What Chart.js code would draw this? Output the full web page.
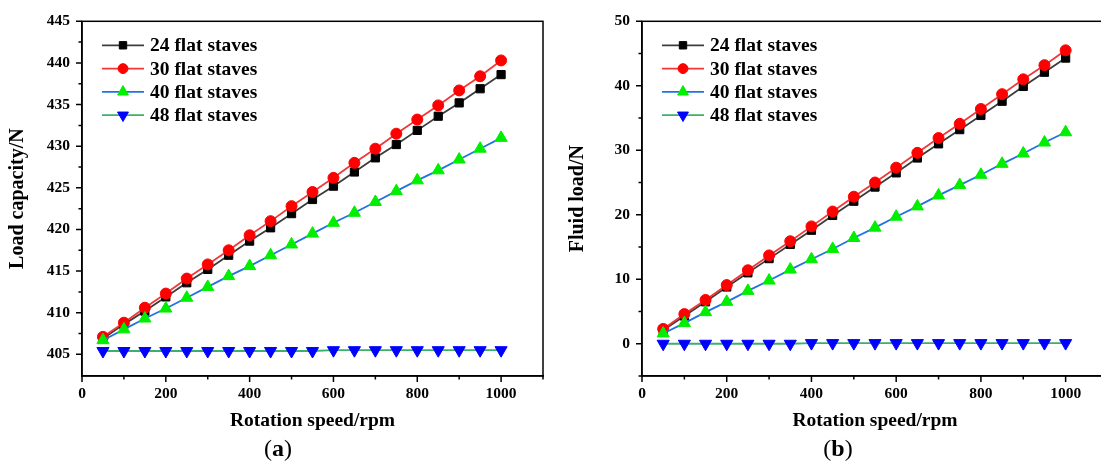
<!DOCTYPE html>
<html>
<head>
<meta charset="utf-8">
<script src="https://cdn.jsdelivr.net/npm/chart.js@4.4.1/dist/chart.umd.min.js"></script>
<style>
  html, body { margin: 0; padding: 0; background: #fff; overflow: hidden; }
  .panel { position: absolute; top: 0; width: 560px; height: 469px; }
  .cap { position: absolute; top: 435px; width: 560px; text-align: center;
         font: 24px "Liberation Serif", serif; color: #000; }
</style>
</head>
<body>
<div class="panel" style="left:0"><canvas id="chartA"></canvas></div>
<div class="panel" style="left:560px"><canvas id="chartB"></canvas></div>
<div class="cap" style="left:-2px">(<b>a</b>)</div>
<div class="cap" style="left:558px">(<b>b</b>)</div>
<script>
// rotation speed, rpm
const speeds = [50, 100, 150, 200, 250, 300, 350, 400, 450, 500,
                550, 600, 650, 700, 750, 800, 850, 900, 950, 1000];

// (a) load capacity, N
const load24 = [406.9, 408.6, 410.2, 411.9, 413.6, 415.2, 416.9, 418.6, 420.2, 421.9,
                423.6, 425.2, 426.9, 428.6, 430.2, 431.9, 433.6, 435.2, 436.9, 438.6];
const load30 = [407.1, 408.8, 410.6, 412.3, 414.1, 415.8, 417.5, 419.3, 421.0, 422.8,
                424.5, 426.2, 428.0, 429.7, 431.5, 433.2, 434.9, 436.7, 438.4, 440.3];
const load40 = [406.7, 408.0, 409.3, 410.5, 411.8, 413.1, 414.4, 415.6, 416.9, 418.2,
                419.5, 420.8, 422.0, 423.3, 424.6, 425.9, 427.1, 428.4, 429.7, 431.0];
const load48 = [405.4, 405.4, 405.4, 405.4, 405.4, 405.4, 405.4, 405.4, 405.4, 405.4,
                405.4, 405.5, 405.5, 405.5, 405.5, 405.5, 405.5, 405.5, 405.5, 405.5];

// (b) fluid load, N
const fluid24 = [2.1, 4.3, 6.5, 8.8, 11.0, 13.2, 15.4, 17.6, 19.9, 22.1,
                 24.3, 26.5, 28.8, 31.0, 33.2, 35.4, 37.6, 39.9, 42.1, 44.3];
const fluid30 = [2.3, 4.6, 6.8, 9.1, 11.4, 13.7, 15.9, 18.2, 20.5, 22.8,
                 25.0, 27.3, 29.6, 31.9, 34.1, 36.4, 38.7, 41.0, 43.2, 45.5];
const fluid40 = [1.6, 3.2, 4.9, 6.5, 8.2, 9.8, 11.5, 13.1, 14.7, 16.4,
                 18.0, 19.7, 21.3, 23.0, 24.6, 26.2, 27.9, 29.5, 31.2, 32.8];
const fluid48 = [0.0, 0.0, 0.0, 0.0, 0.0, 0.0, 0.0, 0.1, 0.1, 0.1,
                 0.1, 0.1, 0.1, 0.1, 0.1, 0.1, 0.1, 0.1, 0.1, 0.1];

const seriesNames = ['24 flat staves', '30 flat staves', '40 flat staves', '48 flat staves'];

// tick positions (labels only on the major ones)
const xTicks = [0, 100, 200, 300, 400, 500, 600, 700, 800, 900, 1000, 1100];
const yTicksA = [405, 407.5, 410, 412.5, 415, 417.5, 420, 422.5, 425, 427.5,
                 430, 432.5, 435, 437.5, 440, 442.5, 445];
const yTicksB = [-5, 0, 5, 10, 15, 20, 25, 30, 35, 40, 45, 50];

Chart.defaults.font.family = '"Liberation Serif", "Times New Roman", serif';
Chart.defaults.color = '#000';

const styles = [
  { line: '#3c3c3c', mark: '#000000', shape: 'rect', radius: 5.8, rot: 0 },
  { line: '#f03838', mark: '#ff0000', shape: 'circle', radius: 5.5, rot: 0 },
  { line: '#2272e0', mark: '#00ee00', shape: 'triangle', radius: 7, rot: 0 },
  { line: '#3cb06a', mark: '#0000ff', shape: 'triangle', radius: 7, rot: 180 }
];

function makeDatasets(arrays) {
  return arrays.map((arr, i) => ({
    label: seriesNames[i],
    data: speeds.map((s, j) => ({ x: s, y: arr[j] })),
    borderColor: styles[i].line,
    backgroundColor: styles[i].mark,
    borderWidth: 1.8,
    pointStyle: styles[i].shape,
    pointRotation: styles[i].rot,
    pointRadius: styles[i].radius,
    pointBackgroundColor: styles[i].mark,
    pointBorderColor: styles[i].mark,
    pointBorderWidth: 1,
    order: 3 - i
  }));
}

// frame, outward tick marks and the legend inside the plot
function decorations(xMajor, yMajor) {
  return {
    id: 'decorations',
    afterDraw(chart) {
      const ctx = chart.ctx;
      const area = chart.chartArea;
      ctx.save();
      ctx.strokeStyle = '#000';
      ctx.lineWidth = 1.5;
      ctx.strokeRect(area.left, area.top, area.right - area.left, area.bottom - area.top);

      const xs = chart.scales.x, ys = chart.scales.y;
      ctx.beginPath();
      xs.ticks.forEach(t => {
        const px = xs.getPixelForValue(t.value);
        const len = t.value % xMajor === 0 ? 6 : 3.5;
        ctx.moveTo(px, area.bottom);
        ctx.lineTo(px, area.bottom + len);
      });
      ys.ticks.forEach(t => {
        const py = ys.getPixelForValue(t.value);
        const len = t.value % yMajor === 0 ? 6 : 3.5;
        ctx.moveTo(area.left, py);
        ctx.lineTo(area.left - len, py);
      });
      ctx.stroke();

      chart.data.datasets.forEach((ds, i) => {
        const y = area.top + 24 + i * 23.3;
        const x0 = area.left + 20, x1 = area.left + 62;
        ctx.strokeStyle = ds.borderColor;
        ctx.lineWidth = 1.8;
        ctx.beginPath();
        ctx.moveTo(x0, y);
        ctx.lineTo(x1, y);
        ctx.stroke();
        ctx.fillStyle = ds.pointBackgroundColor;
        ctx.strokeStyle = ds.pointBorderColor;
        ctx.lineWidth = 1;
        Chart.helpers.drawPoint(ctx, {
          pointStyle: ds.pointStyle, rotation: ds.pointRotation,
          radius: ds.pointRadius * 0.9, borderWidth: 1
        }, (x0 + x1) / 2, y);
        ctx.fillStyle = '#000';
        ctx.font = 'bold 19.5px "Liberation Serif", serif';
        ctx.textBaseline = 'middle';
        ctx.textAlign = 'left';
        ctx.fillText(ds.label, x1 + 6, y + 1);
      });
      ctx.restore();
    }
  };
}

function makeChart(id, arrays, yMin, yMax, yTicks, yMajor, yTitle, pad) {
  const el = document.getElementById(id);
  if (!el) return;
  new Chart(el.getContext('2d'), {
    type: 'line',
    data: { datasets: makeDatasets(arrays) },
    options: {
      responsive: true,
      maintainAspectRatio: false,
      animation: false,
      layout: { padding: pad },
      plugins: { legend: { display: false }, tooltip: { enabled: false } },
      scales: {
        x: {
          type: 'linear',
          min: 0,
          max: 1100,
          afterBuildTicks(scale) { scale.ticks = xTicks.map(v => ({ value: v })); },
          afterFit(scale) { scale.height = 62; },
          grid: { display: false, drawTicks: false },
          border: { color: '#000', width: 1.5 },
          ticks: {
            autoSkip: false,
            maxRotation: 0,
            padding: 9,
            font: { size: 15.5, weight: 'bold' },
            callback: v => (v % 200 === 0 ? v : '')
          },
          title: {
            display: true,
            text: 'Rotation speed/rpm',
            font: { size: 19.5, weight: 'bold' },
            padding: { top: 0, bottom: 5 }
          }
        },
        y: {
          min: yMin,
          max: yMax,
          afterBuildTicks(scale) { scale.ticks = yTicks.map(v => ({ value: v })); },
          afterFit(scale) { scale.width = 82; },
          grid: { display: false, drawTicks: false },
          border: { color: '#000', width: 1.5 },
          ticks: {
            autoSkip: false,
            padding: 12,
            font: { size: 15.5, weight: 'bold' },
            callback: v => (v % yMajor === 0 ? v : '')
          },
          title: {
            display: true,
            text: yTitle,
            font: { size: 20, weight: 'bold' },
            padding: { top: 6, bottom: 0 }
          }
        }
      }
    },
    plugins: [decorations(200, yMajor)]
  });
}

makeChart('chartA', [load24, load30, load40, load48], 402.4, 445, yTicksA, 5,
          'Load capacity/N', { left: 0, right: 17, top: 19, bottom: 31 });
makeChart('chartB', [fluid24, fluid30, fluid40, fluid48], -5, 50, yTicksB, 10,
          'Fluid load/N', { left: 0, right: 12, top: 21, bottom: 31 });
</script>
</body>
</html>
